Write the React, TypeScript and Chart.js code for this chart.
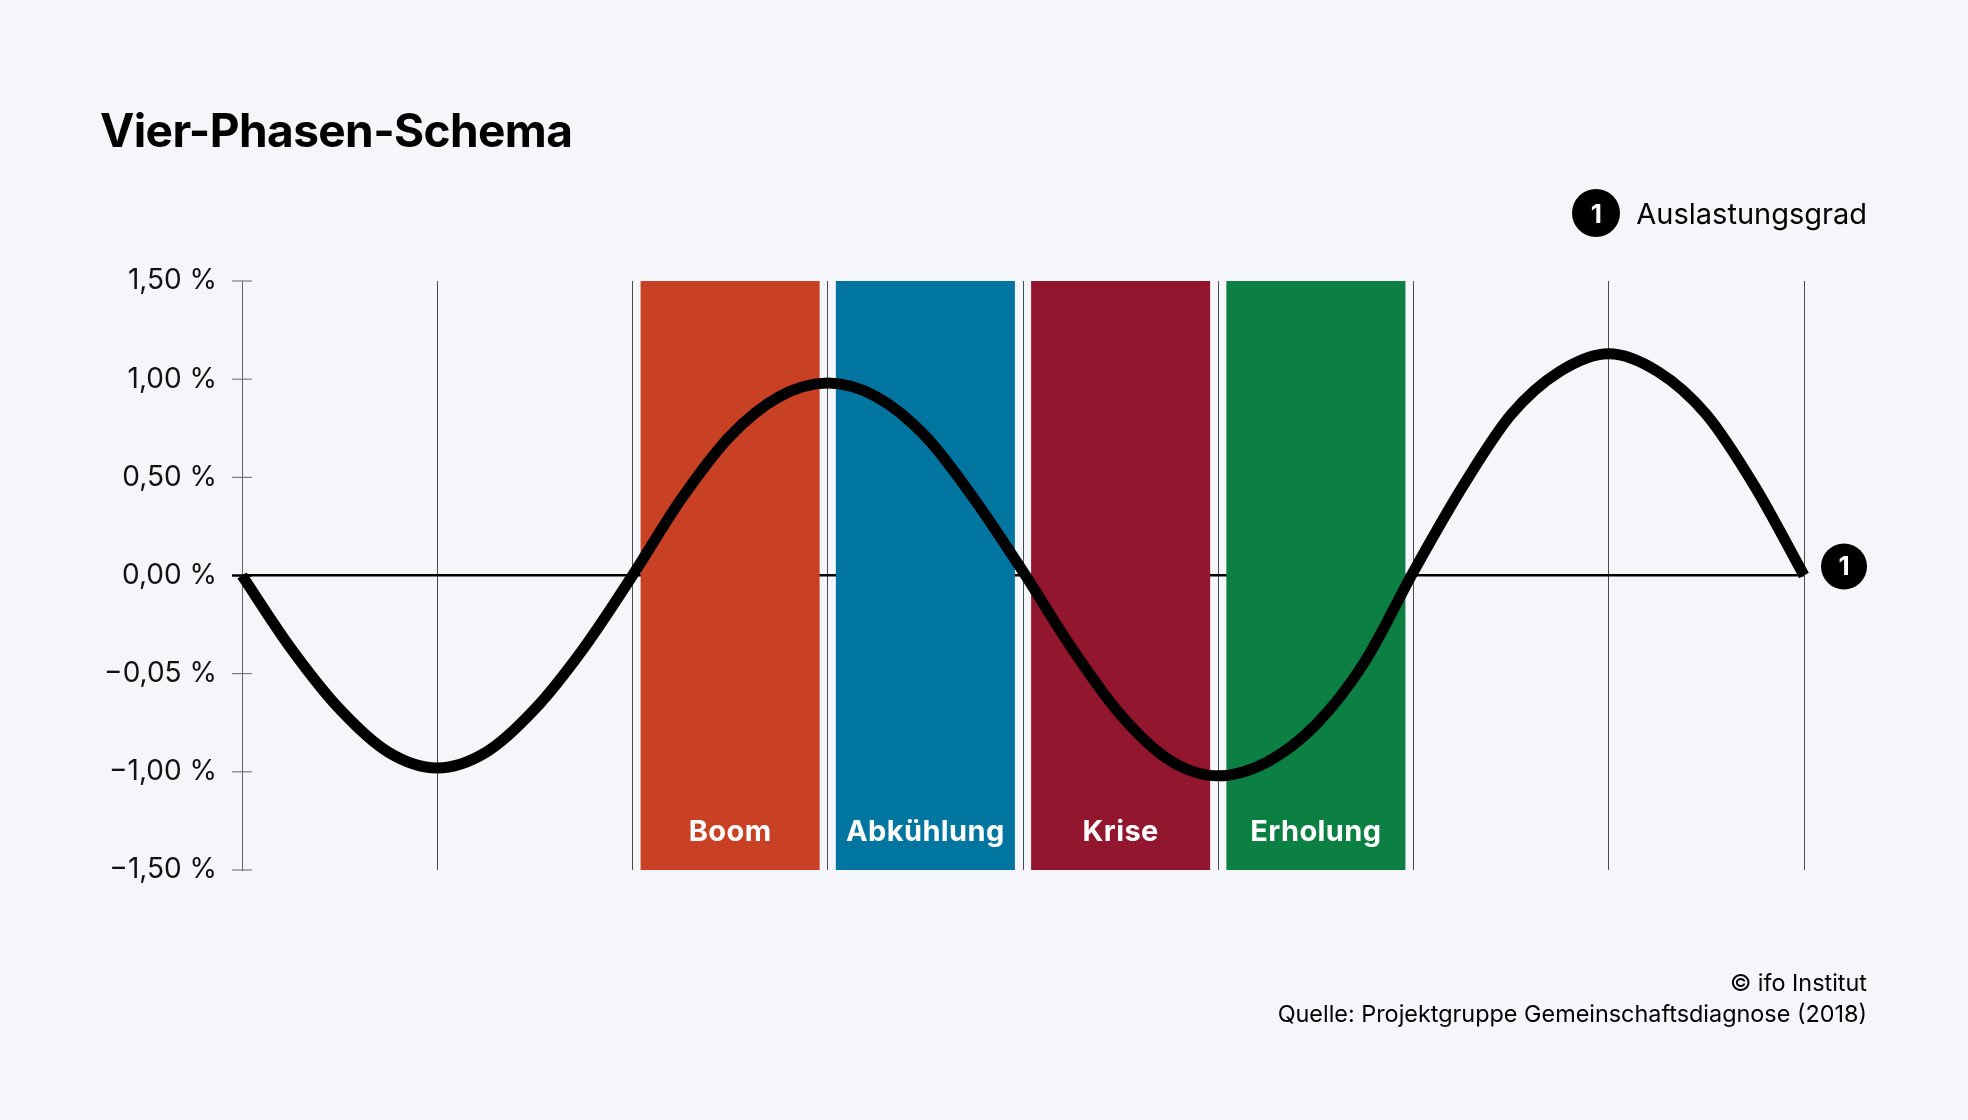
import { useEffect, useRef } from "react";
import { Chart, registerables } from "chart.js";

Chart.register(...registerables);

const FONT = "Inter, 'Noto Sans', sans-serif";

// phases (floating bars spanning the whole value range)
const phaseLabels = ["Boom", "Abkühlung", "Krise", "Erholung"];
const phaseX = [2.5, 3.5, 4.5, 5.5];
const phaseRange: [number, number] = [-1.5, 1.5];
const phaseColors = ["#c94124", "#00759f", "#92162d", "#0b8042"];

// Auslastungsgrad
const cycleX = [
  0, 0.25, 0.5, 0.75, 1, 1.25, 1.5, 1.75, 2, 2.25, 2.5, 2.75, 3, 3.25, 3.5, 3.75, 4,
  4.25, 4.5, 4.75, 5, 5.25, 5.5, 5.75, 6, 6.25, 6.5, 6.75, 7, 7.25, 7.5, 7.75, 8,
];
const cycleY = [
  0, -0.37, -0.68, -0.9, -0.98, -0.9, -0.68, -0.37, 0, 0.39, 0.71, 0.91, 0.98, 0.91, 0.71, 0.39, 0.02,
  -0.37, -0.71, -0.94, -1.02, -0.95, -0.76, -0.44, 0.02, 0.45, 0.82, 1.04, 1.13, 1.04, 0.82, 0.45, 0,
];

const yTickValues = [1.5, 1.0, 0.5, 0, -0.5, -1.0, -1.5];
const yTickLabels = ["1,50 %", "1,00 %", "0,50 %", "0,00 %", "−0,05 %", "−1,00 %", "−1,50 %"];

const seriesLabel = "Auslastungsgrad";

const App: React.FC = () => {
  const chartRef = useRef<HTMLCanvasElement | null>(null);
  const chartInstanceRef = useRef<Chart | null>(null);

  useEffect(() => {
    document.body.style.margin = "0";
    if (!chartRef.current) return;
    const ctx = chartRef.current.getContext("2d");
    if (!ctx) return;
    if (chartInstanceRef.current) chartInstanceRef.current.destroy();

    // cross-shaped tick marks on the y axis
    const axisTicks = {
      id: "axisTicks",
      afterDraw(chart: any) {
        const { ctx, chartArea, scales } = chart;
        const y = scales.y;
        ctx.save();
        y.ticks.forEach((t: any) => {
          const py = y.getPixelForValue(t.value);
          ctx.strokeStyle = t.value === 0 ? "#000" : "#666";
          ctx.lineWidth = t.value === 0 ? 2.5 : 1;
          ctx.beginPath();
          ctx.moveTo(chartArea.left - 10, py);
          ctx.lineTo(chartArea.left + 10, py);
          ctx.stroke();
        });
        ctx.restore();
      },
    };

    // phase names at the bottom of each bar + end marker of the curve
    const annotations = {
      id: "annotations",
      afterDraw(chart: any) {
        const { ctx, scales } = chart;
        const y = scales.y;
        ctx.save();
        const barMeta = chart.getDatasetMeta(1);
        ctx.fillStyle = "#fff";
        ctx.font = `700 29px ${FONT}`;
        (ctx as any).letterSpacing = "0.4px";
        ctx.textAlign = "center";
        ctx.textBaseline = "alphabetic";
        barMeta.data.forEach((el: any, i: number) => {
          ctx.fillText(phaseLabels[i], el.x, y.getPixelForValue(phaseRange[0]) - 29);
        });
        (ctx as any).letterSpacing = "0px";

        const lineMeta = chart.getDatasetMeta(0);
        const last = lineMeta.data[lineMeta.data.length - 1];
        const cx = last.x + 40;
        const cy = last.y - 9;
        ctx.fillStyle = "#000";
        ctx.beginPath();
        ctx.arc(cx, cy, 23, 0, Math.PI * 2);
        ctx.fill();
        ctx.fillStyle = "#fff";
        ctx.font = `700 26px ${FONT}`;
        ctx.textBaseline = "middle";
        ctx.fillText("1", cx, cy + 1);
        ctx.restore();
      },
    };

    chartInstanceRef.current = new Chart(ctx, {
      type: "bar",
      data: {
        datasets: [
          {
            type: "line",
            label: seriesLabel,
            data: cycleX.map((x, i) => ({ x, y: cycleY[i] })),
            borderColor: "#000",
            borderWidth: 11,
            pointRadius: 0,
            cubicInterpolationMode: "monotone",
            clip: false,
            order: 0,
          } as any,
          {
            type: "bar",
            label: "Phasen",
            data: phaseX.map((x) => ({ x, y: phaseRange })),
            backgroundColor: phaseColors,
            borderWidth: 0,
            categoryPercentage: 1,
            barPercentage: 0.917,
            order: 1,
          } as any,
        ],
      },
      options: {
        responsive: false,
        animation: false,
        events: [],
        layout: { padding: { left: 0, top: 281, right: 164, bottom: 250 } },
        plugins: { legend: { display: false }, tooltip: { enabled: false } },
        scales: {
          x: {
            type: "linear",
            min: 0,
            max: 8,
            offset: false,
            ticks: { display: false, stepSize: 1 },
            grid: { color: "#4a4a4a", lineWidth: 1, drawTicks: false, offset: false },
            border: { display: false },
            afterFit: (s: any) => {
              s.height = 0;
            },
          },
          y: {
            type: "linear",
            min: -1.5,
            max: 1.5,
            ticks: {
              stepSize: 0.5,
              padding: 25,
              color: "#111",
              font: { family: FONT, size: 28 },
              callback: (v: any) => {
                const i = yTickValues.findIndex((t) => Math.abs(t - Number(v)) < 1e-6);
                return i >= 0 ? yTickLabels[i] : "";
              },
            },
            grid: {
              drawTicks: false,
              color: (c: any) => (c.tick && c.tick.value === 0 ? "#000" : "rgba(0,0,0,0)"),
              lineWidth: (c: any) => (c.tick && c.tick.value === 0 ? 2.5 : 1),
            },
            border: { display: true, color: "#666", width: 1 },
            afterFit: (s: any) => {
              s.width = 242;
            },
          },
        },
      } as any,
      plugins: [axisTicks, annotations],
    });

    return () => {
      if (chartInstanceRef.current) {
        chartInstanceRef.current.destroy();
        chartInstanceRef.current = null;
      }
    };
  }, []);

  return (
    <div
      style={{
        position: "absolute",
        left: 0,
        top: 0,
        width: 1968,
        height: 1120,
        background: "#f5f6fa",
        fontFamily: FONT,
        color: "#000",
        overflow: "hidden",
      }}
    >
      <canvas ref={chartRef} width={1968} height={1120} style={{ position: "absolute", left: 0, top: 0 }} />
      <div style={{ position: "absolute", left: 100, top: 107, fontSize: 46, fontWeight: 700, lineHeight: 1, letterSpacing: -0.6 }}>
        Vier-Phasen-Schema
      </div>
      <div style={{ position: "absolute", right: 101, top: 189, display: "flex", alignItems: "center", gap: 16 }}>
        <div
          style={{
            width: 48,
            height: 48,
            borderRadius: "50%",
            background: "#000",
            color: "#fff",
            fontWeight: 700,
            fontSize: 26,
            display: "flex",
            alignItems: "center",
            justifyContent: "center",
          }}
        >
          1
        </div>
        <div style={{ fontSize: 29, lineHeight: 1 }}>{seriesLabel}</div>
      </div>
      <div style={{ position: "absolute", right: 101, top: 967, fontSize: 23.4, lineHeight: "31px", textAlign: "right" }}>
        <div>© ifo Institut</div>
        <div>Quelle: Projektgruppe Gemeinschaftsdiagnose (2018)</div>
      </div>
    </div>
  );
};

export default App;
